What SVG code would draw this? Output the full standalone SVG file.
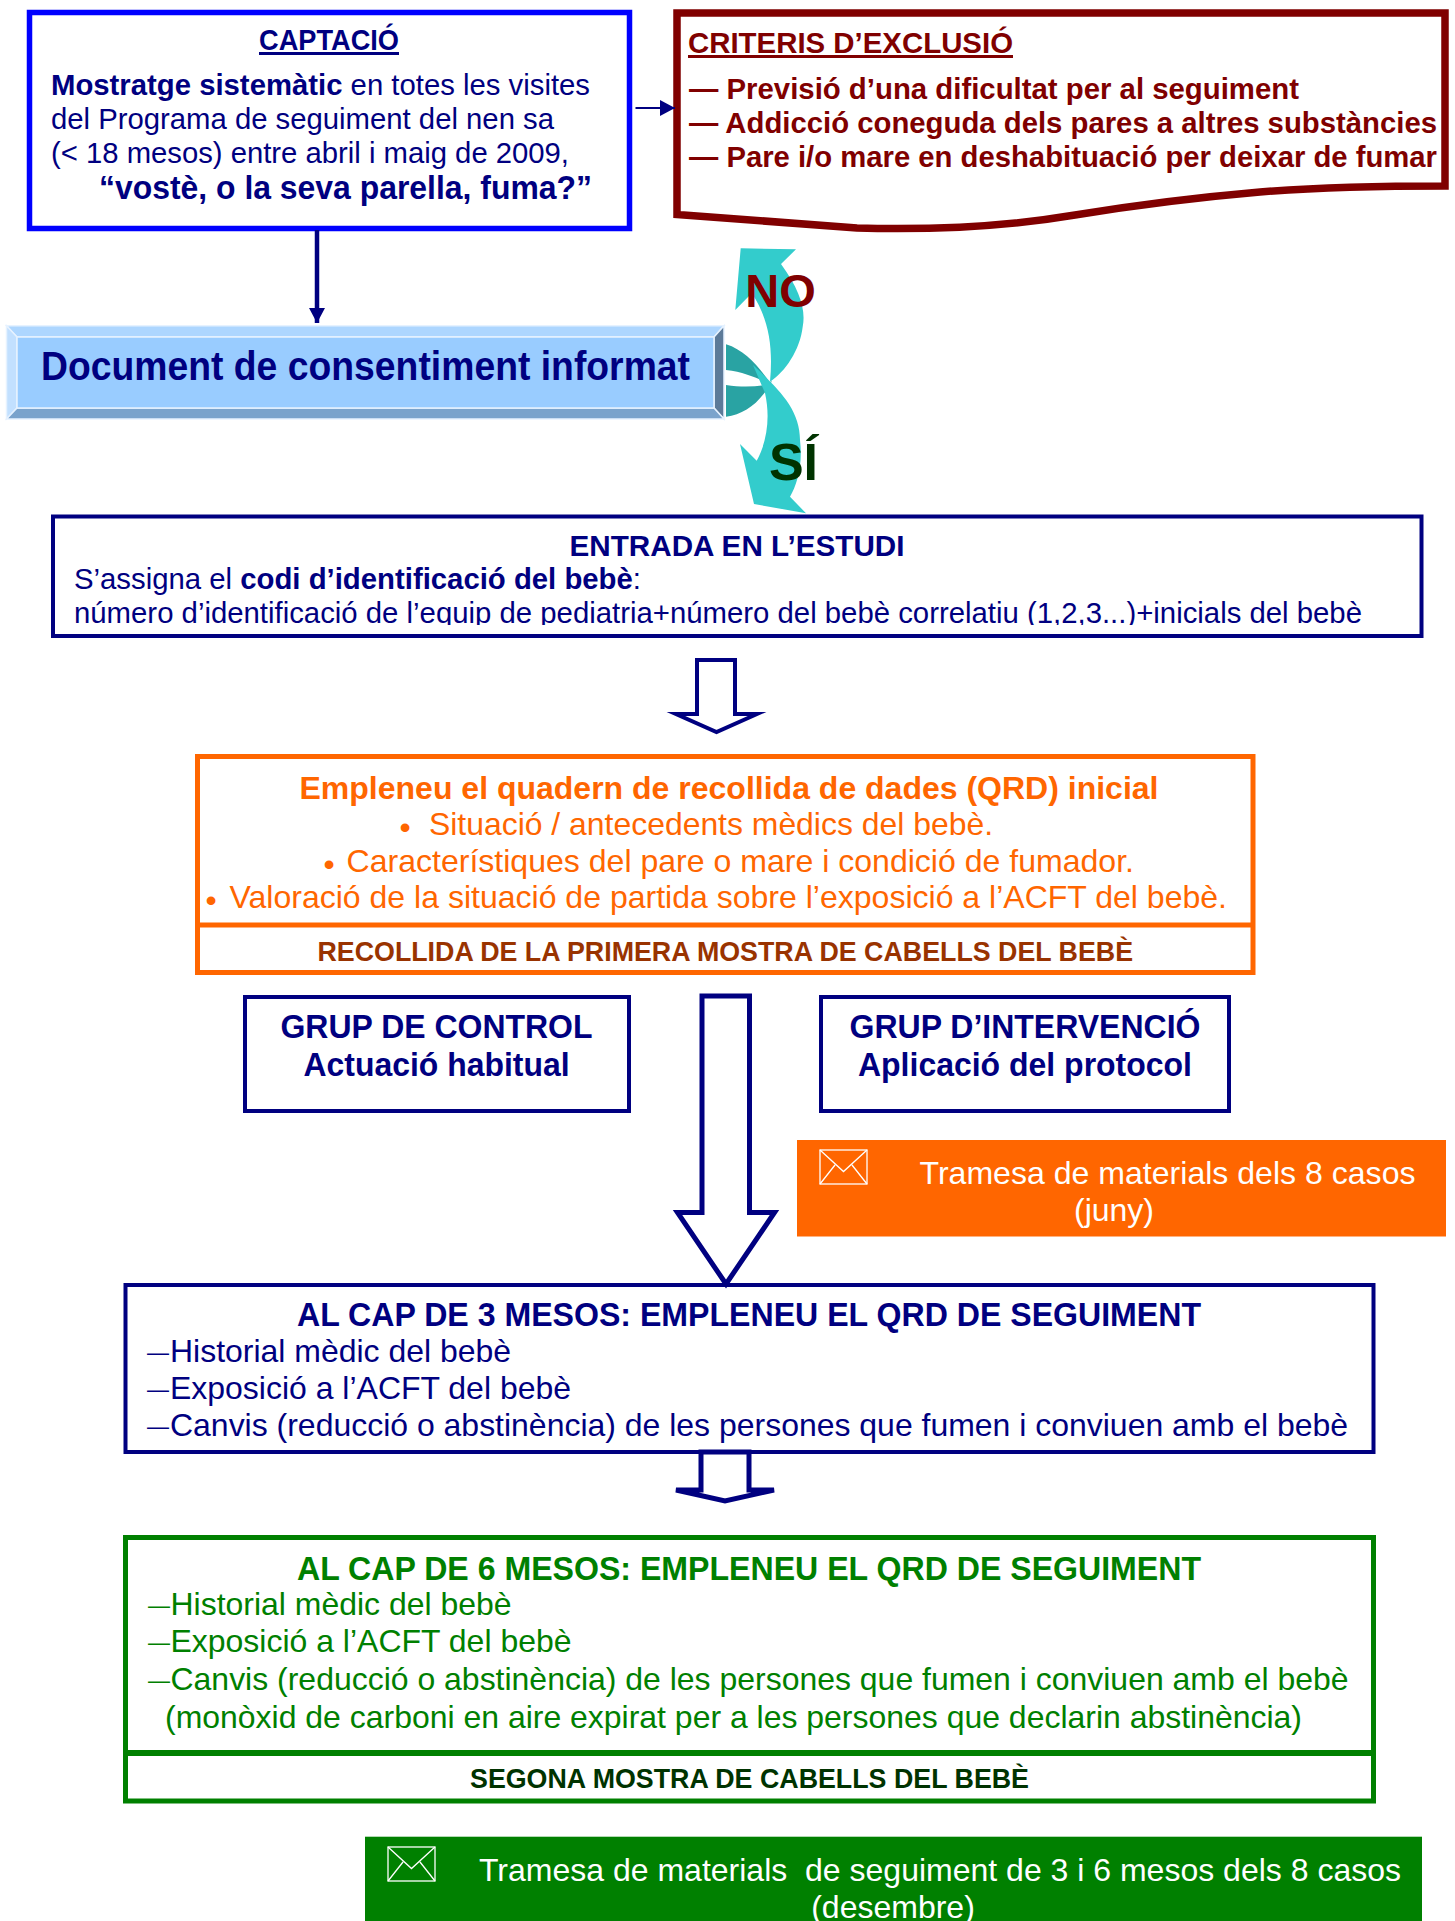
<svg xmlns="http://www.w3.org/2000/svg" width="1455" height="1921" viewBox="0 0 1455 1921">
<style>
text{font-family:"Liberation Sans",Arial,sans-serif;font-size:32px;fill:#000080}
.b{font-weight:700}
.m{text-anchor:middle}
.u{text-decoration:underline}
.box{fill:#fff;stroke:#000080;stroke-width:4}
.mar{fill:#800000}
.or{fill:#FF6600}
.gr{fill:#008000}
.w{fill:#fff}
.hollow{fill:#fff;stroke:#000080;stroke-width:5;stroke-linejoin:miter;stroke-miterlimit:8}
.dash{font-size:22px}
.bev{stroke:#E6F2FF;stroke-width:1.5}
.tl{fill:#33CCCC}
.dk{fill:#29A3A3}
.env{fill:none;stroke:#fff;stroke-width:1.3}
.c{font-size:30px}
.t{font-size:34px}
.h{font-size:33px}
.s{font-size:28px}
</style>
<defs>
<clipPath id="clipEntry"><rect x="50" y="510" width="1380" height="115"/></clipPath>
<marker id="head" markerUnits="userSpaceOnUse" markerWidth="17" markerHeight="17" refX="15" refY="8" orient="auto"><path d="M0,0 L15,8 L0,16 Z" fill="#000080"/></marker>
<g id="envelope"><rect class="env" x="0" y="0" width="47" height="34"/><path class="env" d="M0,0 L23.5,21.5 L47,0 M0,34 L15,15 M47,34 L32,15"/></g>
</defs>
<rect width="1455" height="1921" fill="#fff"/>

<g id="captacio">
<rect x="29.5" y="12.5" width="600" height="216" fill="#fff" stroke="#0000FF" stroke-width="5.5"/>
<text class="b u m c" x="329" y="50" textLength="140" lengthAdjust="spacingAndGlyphs">CAPTACIÓ</text>
<text class="c" x="51" y="95" textLength="539" lengthAdjust="spacingAndGlyphs"><tspan class="b">Mostratge sistemàtic</tspan> en totes les visites</text>
<text class="c" x="51" y="129" textLength="503" lengthAdjust="spacingAndGlyphs">del Programa de seguiment del nen sa</text>
<text class="c" x="51" y="163" textLength="518" lengthAdjust="spacingAndGlyphs">(&lt; 18 mesos) entre abril i maig de 2009,</text>
<text class="b t" x="99" y="199" textLength="493" lengthAdjust="spacingAndGlyphs">“vostè, o la seva parella, fuma?”</text>
</g>

<g id="criteris">
<path d="M677,13 H1445 V186 C1380,186 1310,188 1260,192 C1190,198 1130,206 1075,215 C1010,226 930,230 857,228 L677,214.5 Z" fill="#fff" stroke="#800000" stroke-width="7.5"/>
<text class="b u mar c" x="688" y="53" textLength="325" lengthAdjust="spacingAndGlyphs">CRITERIS D’EXCLUSIÓ</text>
<text class="b mar c" x="689" y="98.5" textLength="610" lengthAdjust="spacingAndGlyphs">— Previsió d’una dificultat per al seguiment</text>
<text class="b mar c" x="689" y="132.5" textLength="748" lengthAdjust="spacingAndGlyphs">— Addicció coneguda dels pares a altres substàncies</text>
<text class="b mar c" x="689" y="166.5" textLength="748" lengthAdjust="spacingAndGlyphs">— Pare i/o mare en deshabituació per deixar de fumar</text>
</g>

<g id="consentiment">
<polygon points="6.5,325.7 724,325.7 714,337 17,337" fill="#ADD6FF" class="bev"/>
<polygon points="6.5,325.7 17,337 17,408 6.5,419" fill="#C2E0FF" class="bev"/>
<polygon points="724,325.7 724,419 714,408 714,337" fill="#5C7A99" class="bev"/>
<polygon points="6.5,419 724,419 714,408 17,408" fill="#7AA3CC" class="bev"/>
<rect x="17" y="337" width="697" height="71" fill="#99CCFF" class="bev"/>
<text class="b" x="41" y="380" style="font-size:40px" textLength="649" lengthAdjust="spacingAndGlyphs">Document de consentiment informat</text>
</g>

<g id="entrada">
<rect class="box" x="53" y="516.5" width="1368.5" height="119.5"/>
<text class="b m c" x="737" y="556" textLength="335" lengthAdjust="spacingAndGlyphs">ENTRADA EN L’ESTUDI</text>
<text class="c" x="74" y="589" textLength="567" lengthAdjust="spacingAndGlyphs">S’assigna el <tspan class="b">codi d’identificació del bebè</tspan>:</text>
<g clip-path="url(#clipEntry)"><text class="c" x="74" y="623" textLength="1288" lengthAdjust="spacingAndGlyphs">número d’identificació de l’equip de pediatria+número del bebè correlatiu (1,2,3...)+inicials del bebè</text></g>
</g>

<g id="qrd-inicial">
<rect x="197.5" y="756.5" width="1055.5" height="216" fill="#fff" stroke="#FF6600" stroke-width="5"/>
<path d="M195,925 H1255" stroke="#FF6600" stroke-width="5"/>
<text class="b m or" x="729" y="799" textLength="859" lengthAdjust="spacingAndGlyphs">Empleneu el quadern de recollida de dades (QRD) inicial</text>
<text class="or" x="399.5" y="838">•</text><text class="or" x="429" y="835" textLength="564" lengthAdjust="spacingAndGlyphs">Situació / antecedents mèdics del bebè.</text>
<text class="or" x="323.5" y="875">•</text><text class="or" x="346.5" y="872" textLength="787.5" lengthAdjust="spacingAndGlyphs">Característiques del pare o mare i condició de fumador.</text>
<text class="or" x="205.5" y="911">•</text><text class="or" x="229.5" y="908" textLength="997.5" lengthAdjust="spacingAndGlyphs">Valoració de la situació de partida sobre l’exposició a l’ACFT del bebè.</text>
<text class="b s" x="317.5" y="961" style="fill:#993300" textLength="815.5" lengthAdjust="spacingAndGlyphs">RECOLLIDA DE LA PRIMERA MOSTRA DE CABELLS DEL BEBÈ</text>
</g>

<g id="grup-control">
<rect class="box" x="245" y="997" width="384" height="114"/>
<text class="b m t" x="436.5" y="1038" textLength="312" lengthAdjust="spacingAndGlyphs">GRUP DE CONTROL</text>
<text class="b m t" x="436.5" y="1076" textLength="266" lengthAdjust="spacingAndGlyphs">Actuació habitual</text>
</g>

<g id="grup-intervencio">
<rect class="box" x="821" y="997" width="408" height="114"/>
<text class="b m t" x="1025" y="1037.5" textLength="351" lengthAdjust="spacingAndGlyphs">GRUP D’INTERVENCIÓ</text>
<text class="b m t" x="1025" y="1075.5" textLength="334" lengthAdjust="spacingAndGlyphs">Aplicació del protocol</text>
</g>

<g id="tramesa-juny">
<rect x="797" y="1140" width="649" height="96.5" fill="#FF6600"/>
<use href="#envelope" x="820" y="1150"/>
<text class="w" x="919.5" y="1184" textLength="496" lengthAdjust="spacingAndGlyphs">Tramesa de materials dels 8 casos</text>
<text class="w m" x="1114" y="1221">(juny)</text>
</g>

<g id="seguiment-3m">
<rect class="box" x="125.5" y="1285" width="1248" height="167"/>
<text class="b m h" x="749" y="1326" textLength="904" lengthAdjust="spacingAndGlyphs">AL CAP DE 3 MESOS: EMPLENEU EL QRD DE SEGUIMENT</text>
<text class="dash" x="147" y="1360">—</text><text x="170" y="1362" textLength="341" lengthAdjust="spacingAndGlyphs">Historial mèdic del bebè</text>
<text class="dash" x="147" y="1397">—</text><text x="170" y="1399" textLength="401" lengthAdjust="spacingAndGlyphs">Exposició a l’ACFT del bebè</text>
<text class="dash" x="147" y="1434">—</text><text x="170" y="1436" textLength="1178" lengthAdjust="spacingAndGlyphs">Canvis (reducció o abstinència) de les persones que fumen i conviuen amb el bebè</text>
</g>

<g id="seguiment-6m">
<rect x="125.5" y="1537.5" width="1248" height="263.5" fill="#fff" stroke="#008000" stroke-width="5"/>
<path d="M123,1753 H1376" stroke="#008000" stroke-width="6"/>
<text class="b m gr h" x="749" y="1580" textLength="904" lengthAdjust="spacingAndGlyphs">AL CAP DE 6 MESOS: EMPLENEU EL QRD DE SEGUIMENT</text>
<text class="dash gr" x="148" y="1613">—</text><text class="gr" x="170.5" y="1615" textLength="341" lengthAdjust="spacingAndGlyphs">Historial mèdic del bebè</text>
<text class="dash gr" x="148" y="1650">—</text><text class="gr" x="170.5" y="1652" textLength="401" lengthAdjust="spacingAndGlyphs">Exposició a l’ACFT del bebè</text>
<text class="dash gr" x="148" y="1688">—</text><text class="gr" x="170.5" y="1690" textLength="1178" lengthAdjust="spacingAndGlyphs">Canvis (reducció o abstinència) de les persones que fumen i conviuen amb el bebè</text>
<text class="gr" x="165" y="1728" textLength="1137" lengthAdjust="spacingAndGlyphs">(monòxid de carboni en aire expirat per a les persones que declarin abstinència)</text>
<text class="b s" x="470" y="1788" style="fill:#003300" textLength="559" lengthAdjust="spacingAndGlyphs">SEGONA MOSTRA DE CABELLS DEL BEBÈ</text>
</g>

<g id="tramesa-desembre">
<rect x="365" y="1836.7" width="1057" height="84.3" fill="#008000"/>
<use href="#envelope" x="388" y="1847"/>
<text class="w" x="479" y="1881" style="white-space:pre" textLength="922" lengthAdjust="spacingAndGlyphs">Tramesa de materials  de seguiment de 3 i 6 mesos dels 8 casos</text>
<text class="w m" x="893" y="1918">(desembre)</text>
</g>

<g id="connectors">
<path d="M635.5,108 H675" fill="none" stroke="#000080" stroke-width="2" marker-end="url(#head)"/>
<path d="M317,230 V323" fill="none" stroke="#000080" stroke-width="4.5" marker-end="url(#head)"/>
<path class="dk" d="M726,344.3 C745,350 760,368 770,383 C755,378 745,372 726,370 Z"/>
<path class="dk" d="M726,385 C740,387 752,387 765,385 L772,381 C760,403 745,414 726,416.7 Z"/>
<path class="tl" d="M740.7,248.3 L796,249.3 L781,264 C800,290 806,310 802.7,326.7 C800,350 785,372 770,381.7 C773,350 770,320 751.7,293.3 L735.3,310 Z"/>
<path class="tl" d="M753,365 C780,390 800,410 800,440 C803,465 797,485 790,496.7 L806,513.3 L754,504 L740,444 L756.7,460.7 C768,440 770,415 765,393 Z"/>
<text class="b mar" x="780.5" y="307" style="font-size:47px" text-anchor="middle">NO</text>
<text class="b" x="793.5" y="480" style="font-size:52px;fill:#003300" text-anchor="middle">SÍ</text>
<path class="hollow" style="stroke-width:4" d="M697,660 H735 V714 H757 L716.5,732 L676,714 H697 Z"/>
<path class="hollow" d="M702,996 H749.5 V1212.5 H774.5 L726,1284 L677.5,1212.5 H702 Z"/>
<path class="hollow" d="M701,1452 H749 V1490 H774 L725,1501 L676,1490 H701 Z"/>
</g>
</svg>
